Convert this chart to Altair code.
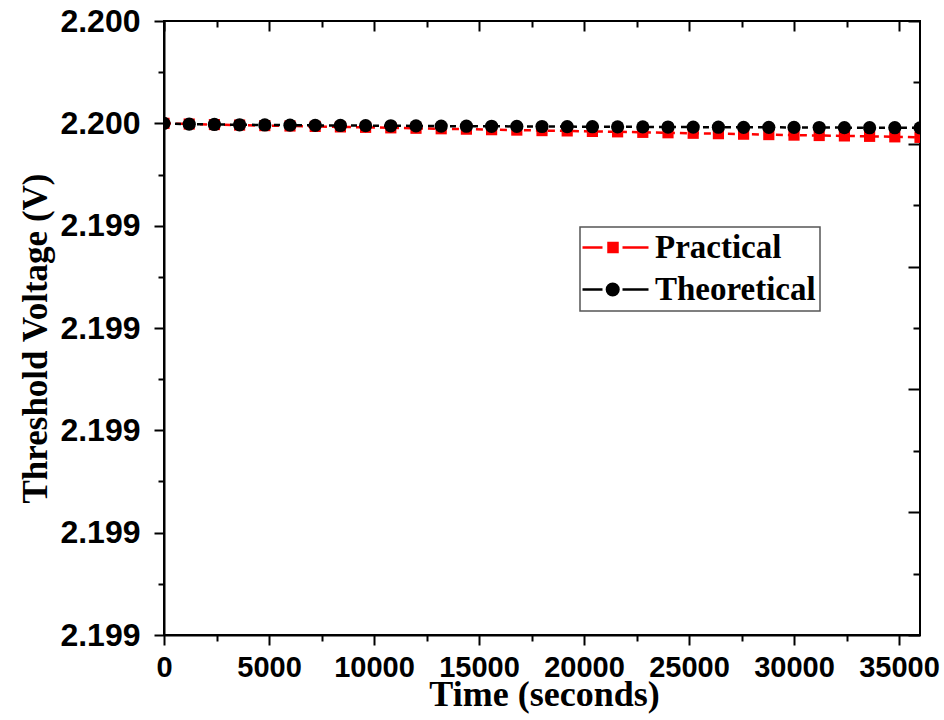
import altair as alt
import pandas as pd

# ---- data ----
time_s = [0, 1200, 2400, 3600, 4800, 6000, 7200, 8400, 9600, 10800,
          12000, 13200, 14400, 15600, 16800, 18000, 19200, 20400, 21600, 22800,
          24000, 25200, 26400, 27600, 28800, 30000, 31200, 32400, 33600, 34800,
          36000]
practical = [2.2000000, 2.1999993, 2.1999988, 2.1999983, 2.1999978, 2.1999974,
             2.1999970, 2.1999965, 2.1999961, 2.1999956, 2.1999952, 2.1999947,
             2.1999943, 2.1999938, 2.1999934, 2.1999929, 2.1999926, 2.1999921,
             2.1999917, 2.1999912, 2.1999908, 2.1999903, 2.1999899, 2.1999894,
             2.1999890, 2.1999885, 2.1999881, 2.1999877, 2.1999873, 2.1999868,
             2.1999863]
theoretical = [2.2000000, 2.1999992, 2.1999989, 2.1999986, 2.1999984, 2.1999982,
               2.1999980, 2.1999979, 2.1999977, 2.1999976, 2.1999975, 2.1999973,
               2.1999972, 2.1999971, 2.1999970, 2.1999969, 2.1999968, 2.1999967,
               2.1999966, 2.1999965, 2.1999964, 2.1999963, 2.1999962, 2.1999961,
               2.1999961, 2.1999960, 2.1999959, 2.1999958, 2.1999957, 2.1999957,
               2.1999956]
series_names = ["Practical", "Theoretical"]
series_colors = ["#ff0000", "#000000"]

x_major = [0, 5000, 10000, 15000, 20000, 25000, 30000, 35000]
x_minor = [2500, 7500, 12500, 17500, 22500, 27500, 32500]
y_major = [2.1995, 2.1996, 2.1997, 2.1998, 2.1999, 2.2000, 2.2001]
y_minor = [2.19955, 2.19965, 2.19975, 2.19985, 2.19995, 2.20005]
y_right_major = [2.1995, 2.19962, 2.19974, 2.19986, 2.19998, 2.2001]
y_right_minor = [2.19956, 2.19968, 2.1998, 2.19992, 2.20004]

df = pd.concat([
    pd.DataFrame({"t": time_s, "v": practical, "series": "Practical"}),
    pd.DataFrame({"t": time_s, "v": theoretical, "series": "Theoretical"}),
], ignore_index=True)

W, H = 756, 614
SANS = "Liberation Sans"
SERIF = "Liberation Serif"

xscale = alt.Scale(domain=[0, 36000], nice=False, zero=False)
yscale = alt.Scale(domain=[2.1995, 2.2001], nice=False, zero=False)

base = alt.Chart(df)

# main axes (bottom / left) with labels
x_main = alt.X("t:Q", scale=xscale, axis=alt.Axis(
    orient="bottom", values=x_major, format="d", labelFlush=False,
    labelFont=SANS, labelFontSize=29, labelFontWeight="bold", labelColor="black",
    labelPadding=8, tickSize=10, tickWidth=2, tickColor="black",
    domainWidth=2, domainColor="black", grid=False,
    title="Time (seconds)", titleFont=SERIF, titleFontSize=36, titleFontWeight="bold",
    titleColor="black", titleX=W / 2 + 2, titleY=59, titleBaseline="middle"))
y_main = alt.Y("v:Q", scale=yscale, axis=alt.Axis(
    orient="left", values=y_major, labelFlush=False,
    labelExpr="datum.value > 2.19995 ? '2.200' : '2.199'",
    labelFont=SANS, labelFontSize=32, labelFontWeight="bold", labelColor="black",
    labelPadding=14, tickSize=10, tickWidth=2, tickColor="black",
    domainWidth=2, domainColor="black", grid=False,
    title="Threshold Voltage (V)", titleFont=SERIF, titleFontSize=35,
    titleFontWeight="bold", titleColor="black", titleX=-129, titleY=317,
    titleBaseline="middle", titleAngle=270))

def tick_axis(orient, values, size, offset=0):
    return alt.Axis(orient=orient, values=values, labels=False, domain=False,
                    grid=False, tickSize=size, tickWidth=2, tickColor="black",
                    offset=offset, title=None)

red = base.transform_filter(alt.datum.series == "Practical")
blk = base.transform_filter(alt.datum.series == "Theoretical")

red_line = red.mark_line(color="#ff0000", strokeWidth=2.5, strokeDash=[7, 5],
                         clip=True).encode(x=x_main, y=y_main)
red_pts = red.mark_square(color="#ff0000", size=125, opacity=1, clip=True).encode(
    x=alt.X("t:Q", scale=xscale, axis=tick_axis("bottom", x_minor, 6)),
    y=alt.Y("v:Q", scale=yscale, axis=tick_axis("left", y_minor, 6)))
blk_line = blk.mark_line(color="#000000", strokeWidth=2.5, strokeDash=[6, 5],
                         clip=True).encode(
    x=alt.X("t:Q", scale=xscale, axis=tick_axis("top", x_major, 10, -10)),
    y=alt.Y("v:Q", scale=yscale, axis=tick_axis("right", y_right_major, 12, -12)))
blk_pts = blk.mark_circle(color="#000000", size=175, opacity=1, clip=True).encode(
    x=alt.X("t:Q", scale=xscale, axis=tick_axis("top", x_minor, 6, -6)),
    y=alt.Y("v:Q", scale=yscale, axis=tick_axis("right", y_right_minor, 7, -7)))

sym_practical = "M-1.8,0H0.2M2.2,0H4.8M0.8,-0.45H1.7V0.45H0.8Z"
sym_theoretical = "M-1.8,0H0.2M2.2,0H4.8M1.8,0A0.58,0.58 0 1,1 0.64,0A0.58,0.58 0 1,1 1.8,0Z"

legend_layer = base.transform_filter("false").mark_point(
    filled=True, opacity=1, strokeWidth=2.5).encode(
    fill=alt.Fill("series:N", scale=alt.Scale(domain=series_names, range=series_colors),
                  legend=alt.Legend(title=None)),
    stroke=alt.Stroke("series:N", scale=alt.Scale(domain=series_names, range=series_colors),
                      legend=alt.Legend(title=None)),
    shape=alt.Shape("series:N", scale=alt.Scale(domain=series_names,
                                                 range=[sym_practical, sym_theoretical]),
                    legend=alt.Legend(title=None)),
)

chart = alt.layer(red_line, red_pts, blk_line, blk_pts, legend_layer).resolve_axis(
    x="independent", y="independent"
).properties(
    width=W, height=H,
    autosize=alt.AutoSizeParams(type="none"),
    padding={"left": 164, "top": 21, "right": 24, "bottom": 85},
    background="white",
).configure_view(
    stroke="black", strokeWidth=2
).configure_legend(
    orient="none", legendX=416, legendY=206,
    strokeColor="#555555", strokeWidth=1.5, fillColor="white",
    padding=4, labelFont=SERIF, labelFontSize=33, labelFontWeight="bold",
    labelColor="black", symbolSize=400, symbolStrokeWidth=2.5,
    labelOffset=38, rowPadding=8, labelLimit=400,
)

chart.save("out.html", embed_options={"renderer": "svg", "actions": False})
